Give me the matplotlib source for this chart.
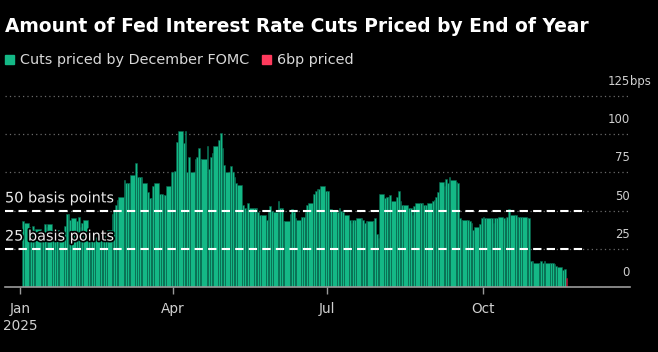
import numpy as np
import pandas as pd
import matplotlib
matplotlib.use('Agg')
import matplotlib.pyplot as plt
import matplotlib.dates as mdates
from matplotlib import font_manager, patheffects
from matplotlib.patches import Rectangle
from matplotlib.transforms import blended_transform_factory

# Cuts priced by December FOMC, bps, one value per business day (Jan 2 .. Nov 19, 2025)
jan = [43, 42, 39, 36, 40, 37, 38, 34, 34, 41, 39, 41, 37, 35, 37, 37, 36, 40, 48, 48, 44, 45]
feb = [43, 46, 39, 42, 44, 37, 34, 32, 31, 33, 34, 37, 36, 35, 37, 48, 50, 54, 57, 59]
mar = [70, 68, 68, 68, 73, 81, 72, 72, 72, 68, 62, 58, 58, 66, 68, 61, 61, 60, 60, 66, 75]
apr = [75, 76, 95, 102, 94, 102, 75, 85, 75, 84, 85, 91, 84, 84, 92, 77, 85, 88, 92, 96, 101, 91]
may = [80, 75, 79, 75, 72, 68, 67, 54, 52, 50, 55, 52, 52, 52, 49, 47, 47, 44, 49, 53, 50, 49]
jun = [56, 52, 52, 43, 43, 48, 51, 49, 45, 44, 46, 46, 49, 54, 55, 61, 63, 64, 64, 66, 63]
jul = [63, 51, 51, 50, 49, 52, 50, 49, 47, 44, 42, 44, 44, 45, 45, 44, 42, 43, 43, 43, 45, 35, 32]
aug = [61, 58, 59, 59, 60, 56, 59, 63, 56, 54, 54, 52, 52, 47, 53, 55, 55, 55, 54, 54, 55]
sep = [56, 57, 59, 62, 69, 66, 71, 68, 72, 70, 69, 68, 45, 44, 44, 44, 43, 42, 37, 39, 41, 45]
octo = [46, 45, 45, 45, 42, 45, 45, 46, 45, 44, 46, 51, 47, 47, 46, 46, 46, 46, 45, 45, 17, 17, 16]
nov = [16, 17, 16, 17, 16, 16, 16, 15, 14, 13, 11, 12]
latest = 6  # "6bp priced"

levels = [0, 25, 50, 75, 100, 125]
tick_dates = ['2025-01-01', '2025-04-01', '2025-07-01', '2025-10-01']
tick_labels = ['Jan\n2025', 'Apr', 'Jul', 'Oct']

green = '#14b886'
red = '#ff3a5c'

# font: narrow sans if there is one
installed = {f.name for f in font_manager.fontManager.ttflist}
font = next((f for f in ['Liberation Sans Narrow', 'DejaVu Sans Condensed'] if f in installed), 'DejaVu Sans')
plt.rcParams['font.family'] = font
k = 0.8 if font == 'DejaVu Sans' else 1.0

values = jan + feb + mar + apr + may + jun + jul + aug + sep + octo + nov + [latest]
dates = pd.bdate_range('2025-01-02', '2025-11-19')
x = mdates.date2num(dates)
w = np.diff(x, append=x[-1] + 1)
cols = [green] * (len(values) - 1) + [red]
edges = ['#07604a'] * (len(values) - 1) + ['#a01030']

W, H = 658, 352
fig = plt.figure(figsize=(W / 100, H / 100), dpi=100, facecolor='black')
ax = fig.add_axes([5 / W, (H - 287) / H, 625 / W, 192.5 / H])
ax.set_facecolor('black')

ax.bar(x, values, width=w, align='edge', color=cols, edgecolor=edges, linewidth=0.4, zorder=2)

ax.set_ylim(0, 126)
ax.set_xlim(mdates.date2num(pd.Timestamp('2024-12-23')), mdates.date2num(pd.Timestamp('2025-12-27')))

ax.set_yticks(levels)
ax.grid(axis='y', color='#6a6a6a', lw=0.9, ls=(0, (1, 2.5)))
ax.set_axisbelow(True)
ax.tick_params(axis='y', left=False, labelleft=False)

ax.set_xticks(mdates.date2num(pd.to_datetime(tick_dates)))
ax.set_xticklabels(tick_labels, linespacing=1.25)
ax.tick_params(axis='x', colors='#9a9a9a', labelcolor='#d0d0d0', length=5, width=1,
               labelsize=12.3 * k, pad=6)

for s in ['top', 'left', 'right']:
    ax.spines[s].set_visible(False)
ax.spines['bottom'].set_color('#9a9a9a')
ax.spines['bottom'].set_linewidth(1.2)
ax.spines['bottom'].set_zorder(4)

trans = blended_transform_factory(ax.transAxes, ax.transData)
for v in levels:
    ax.text(1.0, v + 9.5, str(v), transform=trans, ha='right', va='center',
            color='#d0d0d0', fontsize=10.5 * k)
ax.text(1.0, levels[-1] + 9.5, 'bps', transform=trans, ha='left', va='center',
        color='#d0d0d0', fontsize=10.5 * k)

# reference lines
outline = [patheffects.withStroke(linewidth=2.5, foreground='black')]
for v, lab in [(50, '50 basis points'), (25, '25 basis points')]:
    ax.axhline(v, xmin=0, xmax=0.925, color='white', lw=1.5, ls=(0, (4, 2.5)), zorder=3)
    ax.text(0.0, v + 8, lab, transform=trans, ha='left', va='center', color='#ececec',
            fontsize=13 * k, zorder=5, path_effects=outline)

# title and legend
fig.text(5 / W, 1 - 27 / H, 'Amount of Fed Interest Rate Cuts Priced by End of Year',
         color='white', fontsize=16.8 * k, fontweight='bold', ha='left', va='center')
fig.patches.append(Rectangle((5 / W, 1 - 64 / H), 9 / W, 9 / H, transform=fig.transFigure,
                             color=green))
fig.text(20 / W, 1 - 60 / H, 'Cuts priced by December FOMC', color='#d8d8d8',
         fontsize=12.9 * k, ha='left', va='center')
fig.patches.append(Rectangle((262 / W, 1 - 64 / H), 9 / W, 9 / H, transform=fig.transFigure,
                             color=red))
fig.text(277 / W, 1 - 60 / H, '6bp priced', color='#d8d8d8',
         fontsize=12.9 * k, ha='left', va='center')

fig.savefig('out.png', dpi=100, facecolor='black')
